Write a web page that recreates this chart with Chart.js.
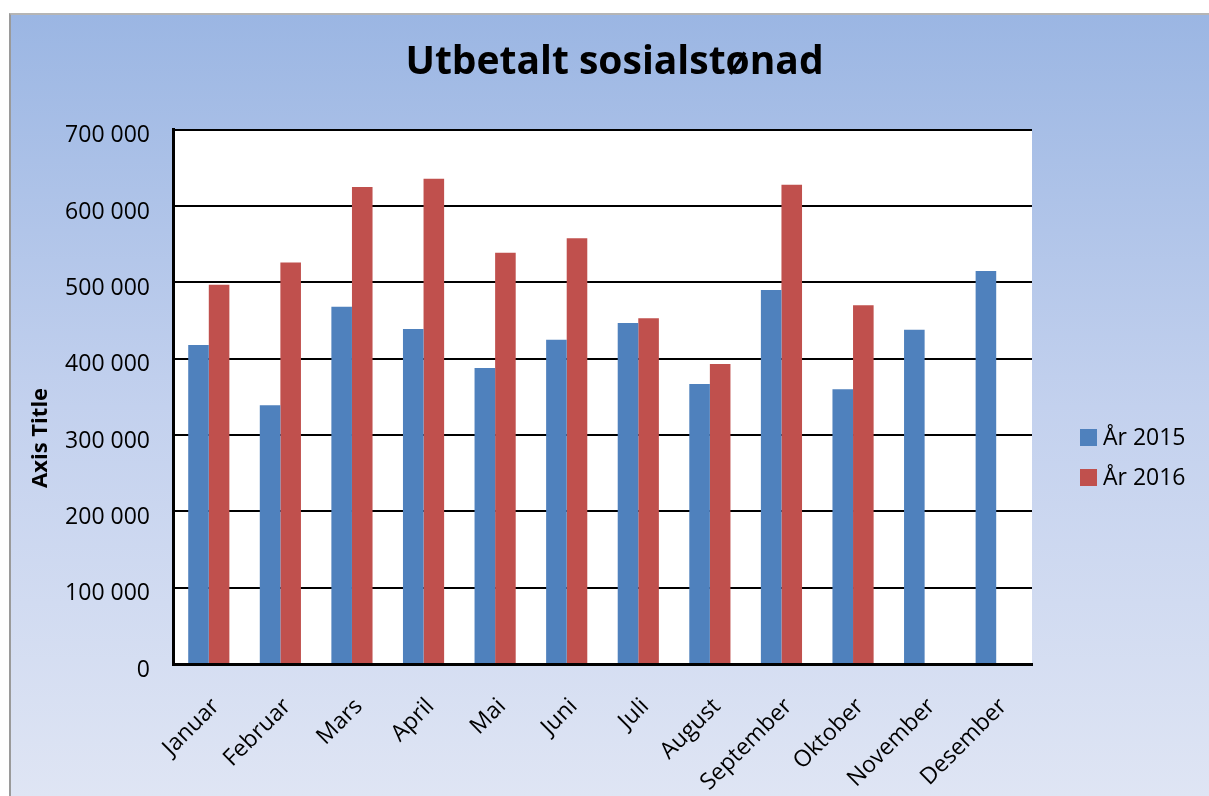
<!DOCTYPE html>
<html>
<head>
<meta charset="utf-8">
<script src="https://cdn.jsdelivr.net/npm/chart.js@4/dist/chart.umd.min.js"></script>
<style>
  html, body { margin: 0; padding: 0; background: #fff; }
  #frame {
    position: absolute; left: 9px; top: 13px; width: 1200px; height: 783px;
    border-left: 2px solid #9a9a9a; border-top: 2px solid #b5b5b5;
    background: linear-gradient(to bottom, #9bb6e3 0%, #c3d1ee 50%, #dfe5f4 100%);
  }
  #wrap { position: absolute; left: 0; top: 0; width: 1198px; height: 781px; }
</style>
</head>
<body>
<div id="frame"><div id="wrap"><canvas id="myChart"></canvas></div></div>
<script>
var months = ['Januar', 'Februar', 'Mars', 'April', 'Mai', 'Juni', 'Juli', 'August', 'September', 'Oktober', 'November', 'Desember'];
var values2015 = [418000, 339000, 468000, 439000, 388000, 425000, 447000, 367000, 490000, 360000, 438000, 515000];
var values2016 = [497000, 526000, 625000, 636000, 539000, 558000, 453000, 393000, 628000, 470000, null, null];
var seriesNames = ['År 2015', 'År 2016'];
var colors = ['#4f81bd', '#c0504d'];

var fontFamily = '"Open Sans", Lato, sans-serif';

// white plot area behind the bars
var plotBackground = {
    id: 'plotBackground',
    beforeDraw: function (chart) {
        var a = chart.chartArea, ctx = chart.ctx;
        ctx.save();
        ctx.fillStyle = '#ffffff';
        ctx.fillRect(a.left, a.top, a.right - a.left, a.bottom - a.top);
        ctx.restore();
    }
};

// legend right of the plot + the y axis title, both drawn from chart data
var sideLegend = {
    id: 'sideLegend',
    afterDraw: function (chart) {
        var ctx = chart.ctx, a = chart.chartArea;
        var x = a.right + 48, y = a.bottom - 227;
        ctx.save();
        ctx.font = '23px ' + fontFamily;
        ctx.textBaseline = 'middle';
        chart.data.datasets.forEach(function (ds, i) {
            var cy = y + i * 40;
            ctx.fillStyle = ds.backgroundColor;
            ctx.fillRect(x, cy - 8, 17, 17);
            ctx.fillStyle = '#000';
            ctx.fillText(ds.label, x + 23, cy + 1);
        });

        // "Axis Title" sits a bit below the middle of the axis, like in Excel
        ctx.translate(30, (a.top + a.bottom) / 2 + 41);
        ctx.rotate(-Math.PI / 2);
        ctx.textAlign = 'center';
        ctx.font = 'bold 22px ' + fontFamily;
        ctx.fillText('Axis Title', 0, 0);
        ctx.restore();
    }
};

function formatThousands(v) {
    return String(v).replace(/\B(?=(\d{3})+(?!\d))/g, ' ');
}

var ctx = document.getElementById('myChart').getContext('2d');
var chart = new Chart(ctx, {
    type: 'bar',
    data: {
        labels: months,
        datasets: [
            { label: seriesNames[0], data: values2015, backgroundColor: colors[0] },
            { label: seriesNames[1], data: values2016, backgroundColor: colors[1] }
        ]
    },
    options: {
        responsive: true,
        maintainAspectRatio: false,
        animation: false,
        layout: { padding: { left: 9, right: 0, top: 0, bottom: 0 } },
        datasets: { bar: { barPercentage: 1, categoryPercentage: 0.575 } },
        plugins: {
            legend: { display: false },
            tooltip: { enabled: false },
            title: {
                display: true,
                text: 'Utbetalt sosialstønad',
                color: '#000',
                font: { family: fontFamily, size: 39, weight: 'bold' },
                padding: { top: 24, bottom: 44 }
            }
        },
        scales: {
            x: {
                grid: { display: false, drawTicks: false },
                border: { display: true, color: '#000', width: 3 },
                ticks: {
                    color: '#000',
                    font: { family: fontFamily, size: 23 },
                    maxRotation: 45, minRotation: 45,
                    padding: 29,
                    labelOffset: 7
                },
                afterFit: function (scale) { scale.height = 132; }
            },
            y: {
                min: 0, max: 700000,
                ticks: {
                    stepSize: 100000,
                    color: '#000',
                    font: { family: fontFamily, size: 23 },
                    padding: 23,
                    labelOffset: 6,
                    callback: function (v) { return formatThousands(v); }
                },
                grid: { color: '#000', lineWidth: 2, drawTicks: false },
                border: { display: true, color: '#000', width: 3 },
                afterFit: function (scale) { scale.width = 153; }
            },
            // empty axis that only keeps room for the legend on the right
            legendSpace: {
                type: 'linear',
                position: 'right',
                display: true,
                grid: { display: false },
                border: { display: false },
                ticks: { display: false },
                afterFit: function (scale) { scale.width = 177; }
            }
        }
    },
    plugins: [plotBackground, sideLegend]
});
</script>
</body>
</html>
